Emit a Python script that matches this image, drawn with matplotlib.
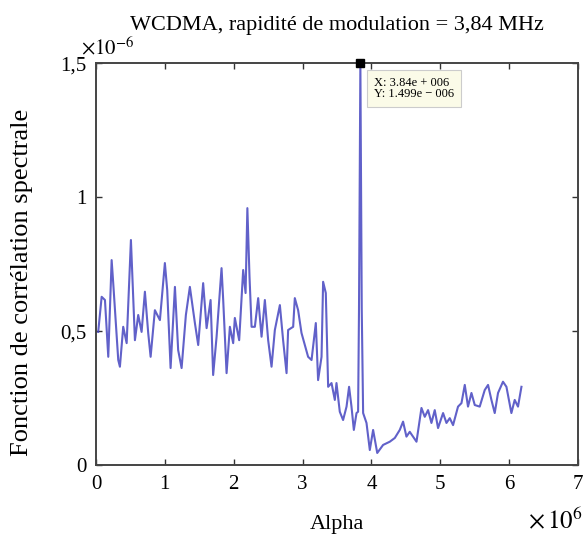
import matplotlib.pyplot as plt

plt.rcParams['font.family'] = 'Liberation Serif'
plt.rcParams['mathtext.fontset'] = 'stix'

# alpha (x 1e6) and spectral correlation (x 1e-6)
alpha = [0.033, 0.083, 0.131, 0.179, 0.228, 0.251, 0.324, 0.348, 0.396, 0.446,
         0.508, 0.566, 0.614, 0.663, 0.711, 0.759, 0.794, 0.856, 0.929, 1.001,
         1.035, 1.084, 1.147, 1.194, 1.244, 1.306, 1.364, 1.437, 1.485, 1.557,
         1.607, 1.665, 1.702, 1.752, 1.824, 1.848, 1.897, 1.945, 1.993, 2.017,
         2.080, 2.138, 2.173, 2.199, 2.230, 2.260, 2.308, 2.356, 2.405, 2.453,
         2.501, 2.550, 2.598, 2.671, 2.718, 2.768, 2.791, 2.864, 2.888, 2.936,
         2.985, 3.081, 3.131, 3.193, 3.226, 3.276, 3.299, 3.338, 3.372, 3.421,
         3.469, 3.493, 3.541, 3.589, 3.639, 3.676, 3.711, 3.745, 3.784, 3.807,
         3.82, 3.84, 3.86, 3.880, 3.929, 3.977, 4.025, 4.085, 4.170, 4.267,
         4.340, 4.412, 4.460, 4.509, 4.557, 4.655, 4.727, 4.775, 4.823, 4.872,
         4.920, 4.968, 5.041, 5.090, 5.138, 5.186, 5.258, 5.308, 5.356, 5.403,
         5.453, 5.501, 5.573, 5.646, 5.694, 5.743, 5.791, 5.839, 5.911, 5.961,
         6.033, 6.081, 6.129, 6.179]
corr = [0.497, 0.628, 0.616, 0.404, 0.765, 0.679, 0.392, 0.367, 0.516, 0.455,
        0.840, 0.466, 0.560, 0.497, 0.647, 0.493, 0.404, 0.578, 0.541, 0.754,
        0.653, 0.362, 0.665, 0.429, 0.362, 0.560, 0.665, 0.530, 0.448, 0.679,
        0.511, 0.616, 0.336, 0.479, 0.735, 0.616, 0.343, 0.516, 0.455, 0.549,
        0.466, 0.728, 0.642, 0.959, 0.703, 0.516, 0.516, 0.623, 0.479, 0.616,
        0.466, 0.367, 0.504, 0.597, 0.466, 0.343, 0.504, 0.516, 0.623, 0.578,
        0.493, 0.404, 0.392, 0.530, 0.317, 0.404, 0.684, 0.642, 0.292, 0.306,
        0.243, 0.306, 0.199, 0.168, 0.218, 0.292, 0.218, 0.131, 0.194, 0.199,
        0.58, 1.499, 0.58, 0.194, 0.157, 0.056, 0.131, 0.045, 0.075, 0.087,
        0.101, 0.131, 0.162, 0.106, 0.124, 0.087, 0.213, 0.180, 0.205, 0.157,
        0.205, 0.138, 0.194, 0.157, 0.175, 0.149, 0.218, 0.231, 0.299, 0.218,
        0.269, 0.224, 0.218, 0.280, 0.299, 0.243, 0.194, 0.269, 0.311, 0.292,
        0.194, 0.243, 0.218, 0.292]

yticks = [0, 0.5, 1, 1.5]
ylabels = ['0', '0,5', '1', '1,5']
xticks = [0, 1, 2, 3, 4, 5, 6, 7]

fig = plt.figure(figsize=(5.85, 5.43), dpi=100)
ax = fig.add_axes([0.164, 0.1436, 0.824, 0.740])

ax.plot(alpha, corr, color='#4545c0', lw=1.5, alpha=0.85)
ax.plot([3.84], [1.499], 's', color='black', ms=6, clip_on=False, zorder=5)

ax.set_xlim(0, 7)
ax.set_ylim(0, 1.5)
ax.set_xticks(xticks)
ax.set_yticks(yticks)
ax.set_yticklabels(ylabels)
ax.tick_params(direction='in', length=4, width=1, top=True, right=True,
               labelsize=15, colors='#333333', labelcolor='black', pad=7)
for s in ax.spines.values():
    s.set_color('#444444')
    s.set_linewidth(1.4)

ax.set_title('WCDMA, rapidité de modulation = 3,84 MHz', fontsize=16, pad=24)
ax.set_xlabel('Alpha', fontsize=16, labelpad=15)
ax.set_ylabel('Fonction de corrélation spectrale', fontsize=19)
ax.yaxis.set_label_coords(-0.131, 0.455)

ax.text(-0.03, 1.01, r'$\times10^{-6}$', transform=ax.transAxes, fontsize=15,
        ha='left', va='bottom')
ax.text(1.01, -0.105, r'$\times\,10^{6}$', transform=ax.transAxes, fontsize=18,
        ha='right', va='top')

ax.annotate('X: 3.84e + 006\nY: 1.499e \u2212 006', xy=(3.84, 1.499),
            xytext=(10, -10), textcoords='offset points', fontsize=9,
            va='top', ha='left', linespacing=0.9,
            bbox=dict(boxstyle='square,pad=0.55', fc='#fbfbe8', ec='#cccccc',
                      lw=0.8))

fig.savefig('out.png', dpi=100)
